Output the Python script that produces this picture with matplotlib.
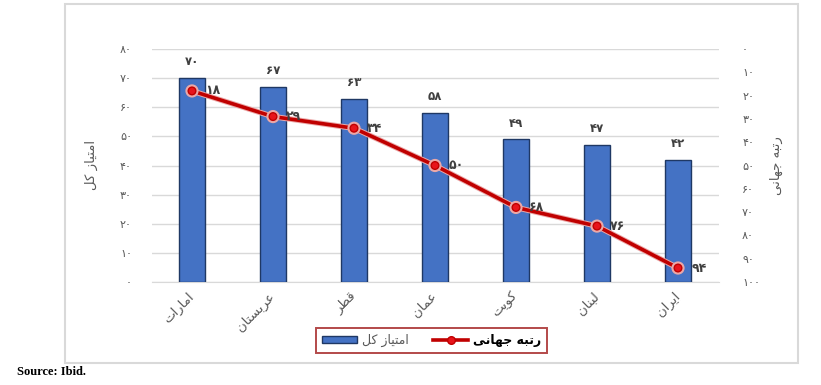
import matplotlib
matplotlib.use("Agg")
import matplotlib.pyplot as plt
from matplotlib.patches import Rectangle, Patch
from matplotlib.lines import Line2D
from matplotlib import font_manager
from matplotlib.ft2font import FT2Font
import matplotlib.patheffects as pe

# ---------------- data ----------------
categories = ['امارات', 'عربستان', 'قطر', 'عمان', 'کویت', 'لبنان', 'ایران']
total_score = [70, 67, 63, 58, 49, 47, 42]
world_rank = [18, 29, 34, 50, 68, 76, 94]
left_ticks = [0, 10, 20, 30, 40, 50, 60, 70, 80]
right_ticks = [0, 10, 20, 30, 40, 50, 60, 70, 80, 90, 100]
label_score = 'امتیاز کل'
label_rank = 'رتبه جهانی'
source_text = 'Source: Ibid.'

# ---------------- Persian shaping helpers ----------------
FONT = 'DejaVu Sans'
_cmap = FT2Font(font_manager.findfont(FONT)).get_charmap()

def _has(cp):
    return cp in _cmap

FORMS = {
    'ا': (0xFE8D, 0xFE8E, None, None),
    'ب': (0xFE8F, 0xFE90, 0xFE91, 0xFE92),
    'ت': (0xFE95, 0xFE96, 0xFE97, 0xFE98),
    'ج': (0xFE9D, 0xFE9E, 0xFE9F, 0xFEA0),
    'ر': (0xFEAD, 0xFEAE, None, None),
    'ز': (0xFEAF, 0xFEB0, None, None),
    'س': (0xFEB1, 0xFEB2, 0xFEB3, 0xFEB4),
    'ط': (0xFEC1, 0xFEC2, 0xFEC3, 0xFEC4),
    'ع': (0xFEC9, 0xFECA, 0xFECB, 0xFECC),
    'ق': (0xFED5, 0xFED6, 0xFED7, 0xFED8),
    'ل': (0xFEDD, 0xFEDE, 0xFEDF, 0xFEE0),
    'م': (0xFEE1, 0xFEE2, 0xFEE3, 0xFEE4),
    'ن': (0xFEE5, 0xFEE6, 0xFEE7, 0xFEE8),
    'ه': (0xFEE9, 0xFEEA, 0xFEEB, 0xFEEC),
    'و': (0xFEED, 0xFEEE, None, None),
}
if all(_has(c) for c in (0xFB8E, 0xFB8F, 0xFB90, 0xFB91)):
    FORMS['ک'] = (0xFB8E, 0xFB8F, 0xFB90, 0xFB91)
else:
    FORMS['ک'] = (0xFED9, 0xFEDA, 0xFEDB, 0xFEDC)
if all(_has(c) for c in (0xFBFC, 0xFBFD, 0xFBFE, 0xFBFF)):
    FORMS['ی'] = (0xFBFC, 0xFBFD, 0xFBFE, 0xFBFF)
else:
    FORMS['ی'] = (0xFEEF, 0xFEF0, 0xFEF3, 0xFEF4)

def _dual(ch):
    f = FORMS.get(ch)
    return f is not None and f[2] is not None

def fa(text):
    out = []
    n = len(text)
    for i, ch in enumerate(text):
        if ch not in FORMS:
            out.append(ch)
            continue
        prev_joins = i > 0 and _dual(text[i - 1])
        next_joins = _dual(ch) and i + 1 < n and text[i + 1] in FORMS
        iso, fin, ini, med = FORMS[ch]
        if prev_joins and next_joins:
            cp = med
        elif prev_joins:
            cp = fin
        elif next_joins:
            cp = ini
        else:
            cp = iso
        out.append(chr(cp))
    return ''.join(out)[::-1]

DIG = str.maketrans('0123456789', '۰۱۲۳۴۵۶۷۸۹')
def fd(n):
    return str(n).translate(DIG)

# ---------------- figure ----------------
W, H = 821, 385
fig = plt.figure(figsize=(W / 100, H / 100), dpi=100)
fig.patch.set_facecolor('white')

# outer frame
fig.patches.append(Rectangle((65 / W, 1 - 363 / H), (798 - 65) / W, (363 - 4) / H,
                             transform=fig.transFigure, fill=False,
                             edgecolor='#D9D9D9', linewidth=1.5))

x0, x1, yt, yb = 151.5, 718.5, 49, 282
ax = fig.add_axes([x0 / W, 1 - yb / H, (x1 - x0) / W, (yb - yt) / H])
x = list(range(len(categories)))

bar_col = '#4472C4'
ax.bar(x, total_score, width=0.32, color=bar_col, edgecolor='#1F3864',
       linewidth=1.0, zorder=3)
ax.set_xlim(-0.5, len(categories) - 0.5)
ax.set_ylim(0, 80)
ax.set_yticks(left_ticks)
ax.set_yticklabels([fd(v) for v in left_ticks], fontsize=8, color='#595959',
                   family=FONT)
ax.grid(axis='y', color='#D9D9D9', linewidth=1.0, zorder=0)
ax.set_axisbelow(True)
for s in ['top', 'left', 'right']:
    ax.spines[s].set_visible(False)
ax.spines['bottom'].set_color('#D9D9D9')
ax.tick_params(axis='y', length=0, pad=14)
ax.tick_params(axis='x', length=0, pad=9)
ax.set_xticks(x)
ax.set_xticklabels([fa(c) for c in categories], rotation=45, ha='right',
                   va='center', rotation_mode='anchor', fontsize=9.5,
                   color='#595959', family=FONT)

for xi, v in zip(x, total_score):
    ax.annotate(fd(v), (xi, v), xytext=(0, 7), textcoords='offset points',
                ha='center', va='bottom', fontsize=8.5, fontweight='bold',
                color='#404040', family=FONT)

ax.set_ylabel(fa(label_score), fontsize=9.5, color='#595959', family=FONT,
              rotation=90, labelpad=16)

ax2 = ax.twinx()
ax2.set_ylim(100, 0)
ax2.set_yticks(right_ticks)
ax2.set_yticklabels([fd(v) for v in right_ticks], fontsize=8, color='#595959',
                    family=FONT)
ax2.tick_params(axis='y', length=0, pad=17)
for s in ['top', 'left', 'right', 'bottom']:
    ax2.spines[s].set_visible(False)
line, = ax2.plot(x, world_rank, color='#C00000', linewidth=2.6,
                 marker='o', markersize=5.5, markerfacecolor='#E8141B',
                 markeredgecolor='#C00000', markeredgewidth=1.0, zorder=4,
                 path_effects=[pe.Stroke(linewidth=4.0, foreground='#EBA8A8'),
                               pe.Normal()])
for xi, v in zip(x, world_rank):
    ax2.annotate(fd(v), (xi, v), xytext=(9.5, 0), textcoords='offset points',
                 ha='left', va='center', fontsize=9, fontweight='bold',
                 color='#404040', family=FONT, zorder=6)
ax2.set_ylabel(fa(label_rank), fontsize=9.5, color='#595959', family=FONT,
               rotation=90, labelpad=7)

# legend
h_bar = Patch(facecolor=bar_col, edgecolor='#1F3864', linewidth=1.0)
h_line = Line2D([], [], color='#C00000', linewidth=2.6, marker='o',
                markersize=5.5, markerfacecolor='#E8141B',
                markeredgecolor='#C00000')
leg = fig.legend([h_bar, h_line], [fa(label_score), fa(label_rank)],
                 loc='center', bbox_to_anchor=(431.5 / W, 1 - 340.5 / H),
                 ncol=2, frameon=True, fancybox=False,
                 handlelength=2.8, handleheight=0.6, columnspacing=2.0,
                 handletextpad=0.4, borderpad=0.45,
                 prop={'family': FONT, 'size': 9})
leg.get_frame().set_edgecolor('#A01C1C')
leg.get_frame().set_linewidth(1.4)
t0, t1 = leg.get_texts()
t0.set_color('#595959')
t1.set_color('#000000')
t1.set_fontweight('bold')

fig.text(17 / W, 1 - 372 / H, source_text, fontsize=9, fontweight='bold',
         family='Liberation Serif', ha='left', va='center', color='black')

fig.savefig('out.png', dpi=100, facecolor='white')
